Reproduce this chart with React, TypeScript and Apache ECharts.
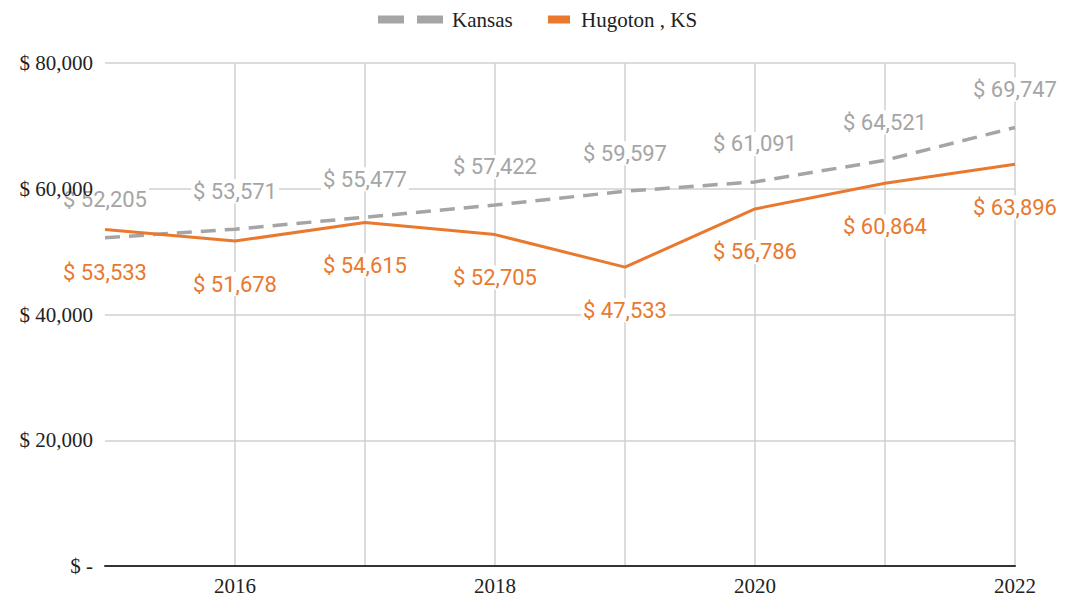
import React, { useEffect, useRef } from "react";
import * as echarts from "echarts";

const years = ["2015", "2016", "2017", "2018", "2019", "2020", "2021", "2022"];
const kansas = [52205, 53571, 55477, 57422, 59597, 61091, 64521, 69747];
const hugoton = [53533, 51678, 54615, 52705, 47533, 56786, 60864, 63896];
const yTicks = [0, 20000, 40000, 60000, 80000];

const GRAY = "#a5a5a5";
const ORANGE = "#e8792f";
const SERIF = "'Liberation Serif', 'Times New Roman', serif";
const SANS = "Roboto, 'Noto Sans', sans-serif";

const money = (v: number) =>
  v === 0 ? "$ -" : "$ " + v.toLocaleString("en-US");

export default function App() {
  const ref = useRef<HTMLDivElement>(null);
  useEffect(() => {
    document.body.style.margin = "0";
    const chart = echarts.init(ref.current!, undefined, { renderer: "svg" });
    const yBase = {
      type: "value",
      min: yTicks[0],
      max: yTicks[yTicks.length - 1],
      interval: yTicks[1] - yTicks[0],
      axisLine: { show: false },
      axisTick: { show: false },
    };
    chart.setOption({
      animation: false,
      backgroundColor: "#fff",
      legend: [
        {
          data: ["Kansas"],
          left: 373,
          top: 4,
          itemWidth: 65,
          itemHeight: 8,
          icon: "path://M0,0H26V8H0Z M39,0H65V8H39Z",
          textStyle: { fontFamily: SERIF, fontSize: 21, color: "#222", padding: [0, 0, 0, 4] },
        },
        {
          data: ["Hugoton , KS"],
          left: 543,
          top: 4,
          itemWidth: 22,
          itemHeight: 8,
          icon: "rect",
          textStyle: { fontFamily: SERIF, fontSize: 21, color: "#222", padding: [0, 0, 0, 6] },
        },
      ],
      grid: { left: 105, right: 74, top: 63, bottom: 33 },
      xAxis: {
        type: "category",
        data: years,
        boundaryGap: false,
        axisLine: { lineStyle: { color: "#333", width: 2 } },
        axisTick: { show: false },
        axisLabel: {
          interval: (i: number) => i % 2 === 1,
          fontFamily: SERIF,
          fontSize: 21,
          color: "#222",
          margin: 9,
        },
        splitLine: {
          show: true,
          interval: (i: number) => i > 0,
          lineStyle: { color: "#d0d0d0", width: 1.5 },
        },
      },
      yAxis: [
        {
          ...yBase,
          axisLabel: { show: false },
          splitLine: { lineStyle: { color: "#d0d0d0", width: 1.5 } },
        },
        {
          ...yBase,
          position: "left",
          z: 10,
          splitLine: { show: false },
          axisLabel: {
            formatter: (v: number) => money(v),
            fontFamily: SERIF,
            fontSize: 21,
            color: "#222",
            margin: 12,
          },
        },
      ],
      series: [
        {
          name: "Kansas",
          type: "line",
          data: kansas,
          yAxisIndex: 0,
          symbol: "circle",
          symbolSize: 0,
          showSymbol: true,
          color: GRAY,
          lineStyle: { color: GRAY, width: 3.5, type: [15, 9] },
          label: {
            show: true,
            position: "top",
            distance: 26,
            formatter: (p: any) => money(p.value),
            fontFamily: SANS,
            fontSize: 22,
            color: GRAY,
            backgroundColor: "#fff",
            padding: [1, 2],
          },
          z: 3,
        },
        {
          name: "Hugoton , KS",
          type: "line",
          data: hugoton,
          yAxisIndex: 0,
          symbol: "circle",
          symbolSize: 0,
          showSymbol: true,
          color: ORANGE,
          lineStyle: { color: ORANGE, width: 3 },
          label: {
            show: true,
            position: "bottom",
            distance: 31,
            formatter: (p: any) => money(p.value),
            fontFamily: SANS,
            fontSize: 22,
            color: ORANGE,
            backgroundColor: "#fff",
            padding: [1, 2],
          },
          z: 4,
        },
      ],
    });
    return () => chart.dispose();
  }, []);
  return <div ref={ref} style={{ width: 1089, height: 599 }} />;
}
